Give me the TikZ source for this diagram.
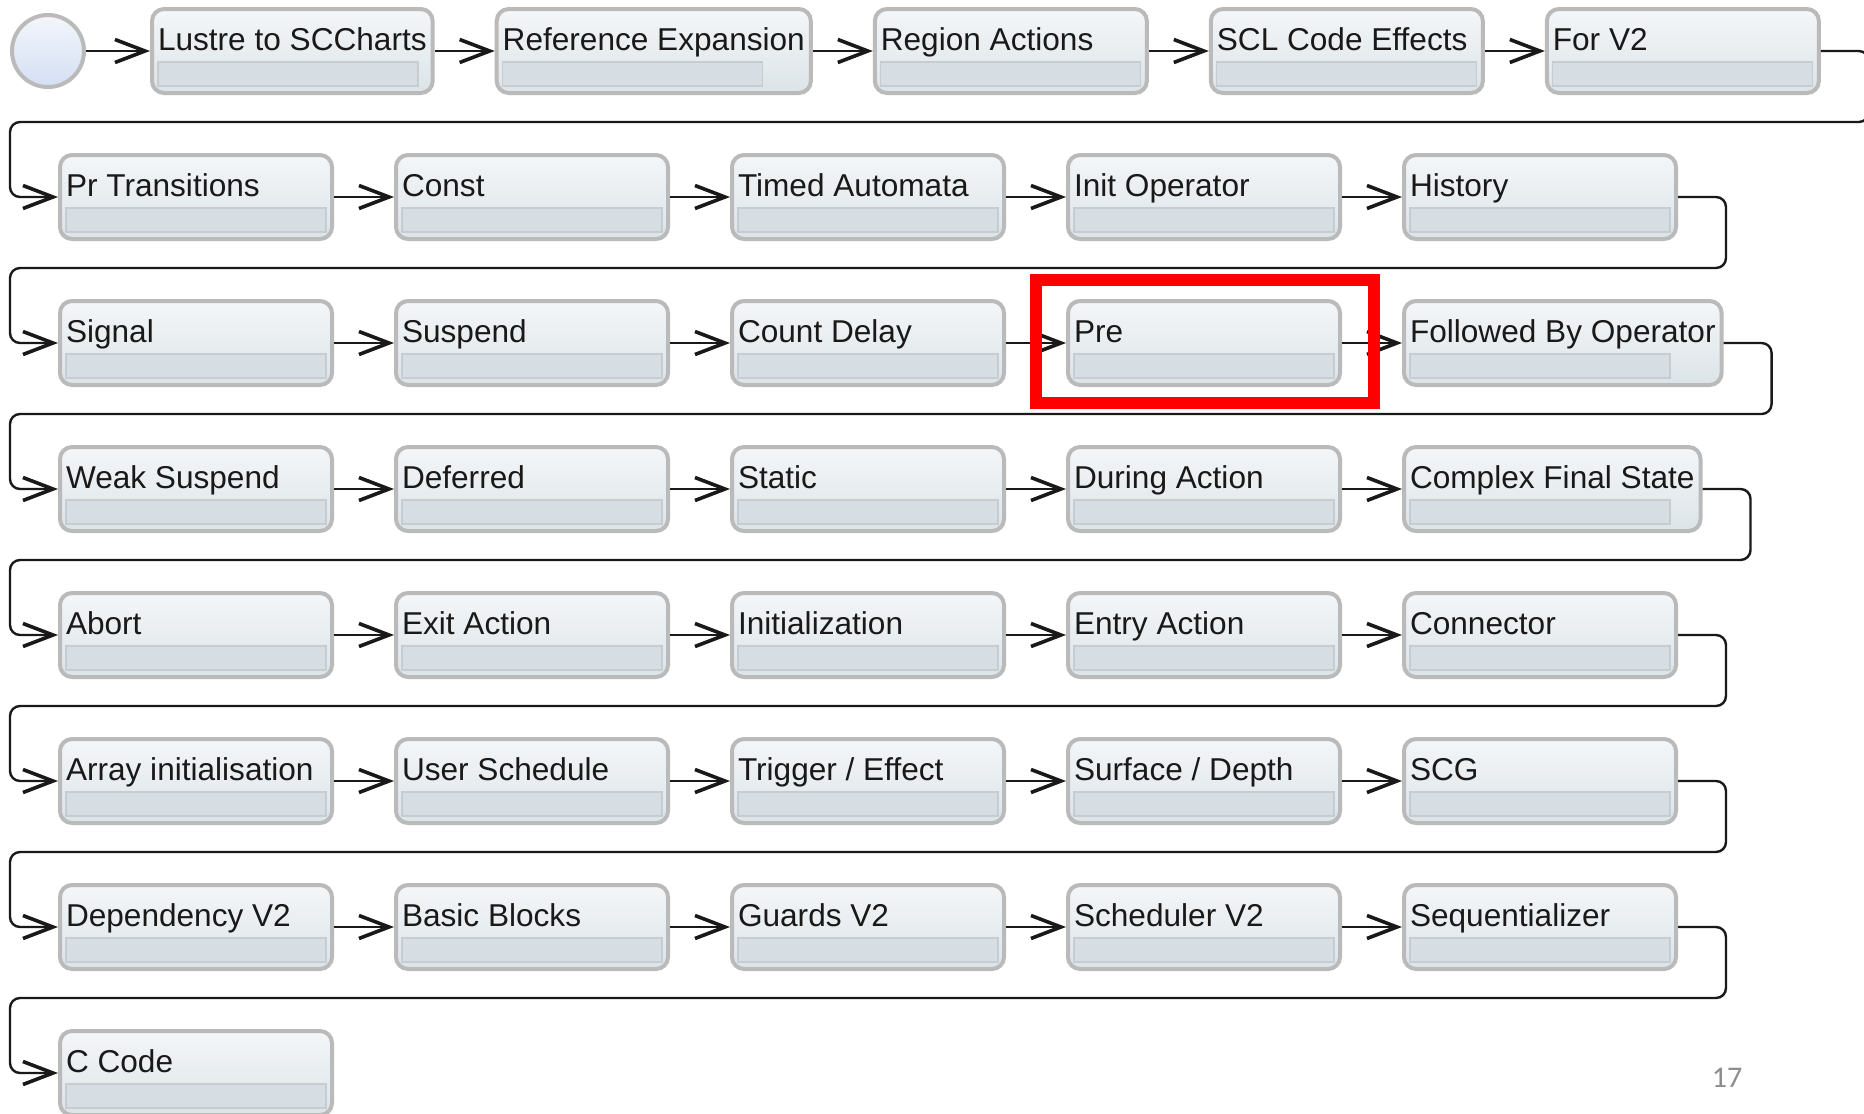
\documentclass[tikz,border=0pt]{standalone}
\usepackage{fontspec}
\setmainfont{Liberation Sans}
\newfontfamily\slidefont{Carlito}
\usetikzlibrary{positioning,arrows.meta}

\definecolor{boxtop}{HTML}{F4F6F8}
\definecolor{boxbot}{HTML}{DCE4E8}
\definecolor{boxline}{HTML}{BABABA}
\definecolor{barfill}{HTML}{D6DEE3}
\definecolor{barline}{HTML}{C6CCD0}
\definecolor{inittop}{HTML}{F4F6FB}
\definecolor{initbot}{HTML}{D3DFF3}
\definecolor{pagegray}{HTML}{8C8C8C}

% step label, left aligned, at least as wide as the bar
\newlength\stepw
\newcommand\steptext[1]{%
  \settowidth\stepw{#1}%
  \ifdim\stepw<130pt\setlength\stepw{130pt}\fi
  \makebox[\stepw][l]{#1}}

\tikzset{
  phase/.style={draw=boxline, line width=2pt, rounded corners=6pt,
    top color=boxtop, bottom color=boxbot, anchor=west,
    inner xsep=3pt, inner ysep=3.5pt, text height=17pt, text depth=18pt,
    font=\fontsize{15.8}{19}\selectfont, text=black!90,
    path picture={\draw[draw=barline, fill=barfill, line width=0.6pt, sharp corners]
      ([shift={(3pt,3.5pt)}]path picture bounding box.south west)
      rectangle +(130pt,12pt);}},
  initstate/.style={circle, draw=boxline, line width=2pt,
    top color=inittop, bottom color=initbot, minimum size=36pt, inner sep=0pt},
  conn/.style={line width=1.2pt, draw=black!90, rounded corners=5pt,
    -{Straight Barb[length=15pt,width=11.5pt,line width=1.8pt]}},
  hilite/.style={draw=red, line width=6pt},
  pagenum/.style={font=\slidefont\fontsize{15}{18}\selectfont, text=pagegray}
}

\begin{document}
\begin{tikzpicture}[x=0.5pt,y=-0.5pt]

  \def\rh{146}  % row step
  \def\cw{336}  % column step

  \clip (0,0) rectangle (1864,1114);
  \fill[white] (0,0) rectangle (1864,1114);

  % ----------------------------------------------------------------
  % first row, after the initial state
  % ----------------------------------------------------------------
  \node[initstate] (init) at (48,51) {};
  \node[phase] (t11) at (150,51) {\steptext{Lustre to SCCharts}};
  \node[phase, right=30pt of t11] (t12) {\steptext{Reference Expansion}};
  \node[phase, right=30pt of t12] (t13) {\steptext{Region Actions}};
  \node[phase, right=30pt of t13] (t14) {\steptext{SCL Code Effects}};
  \node[phase, right=30pt of t14] (t15) {\steptext{For V2}};

  % ----------------------------------------------------------------
  % rows 2 to 8
  % ----------------------------------------------------------------
  \foreach \r/\steps in {%
    2/{Pr Transitions,Const,Timed Automata,Init Operator,History},
    3/{Signal,Suspend,Count Delay,Pre,Followed By Operator},
    4/{Weak Suspend,Deferred,Static,During Action,Complex Final State},
    5/{Abort,Exit Action,Initialization,Entry Action,Connector},
    6/{Array initialisation,User Schedule,Trigger / Effect,Surface / Depth,SCG},
    7/{Dependency V2,Basic Blocks,Guards V2,Scheduler V2,Sequentializer}}{
    \foreach \t [count=\c] in \steps {
      \node[phase] (t\r\c) at ({58+(\c-1)*\cw},{51+(\r-1)*\rh}) {\steptext{\t}};
    }
  }
  \node[phase] (t81) at (58,{51+7*\rh}) {\steptext{C Code}};

  % ----------------------------------------------------------------
  % transitions
  % ----------------------------------------------------------------
  \draw[conn] (init.east) -- (t11.west);
  \foreach \r in {1,...,7}{
    \foreach \c [count=\nc from 2] in {1,...,4}
      \draw[conn] (t\r\c.east) -- (t\r\nc.west);
  }
  % wrap from the end of a row to the start of the next one
  \foreach \r [count=\nr from 2] in {1,...,7}
    \draw[conn] (t\r5.east) -- ++(48,0) |- (10,{\r*\rh-24}) |- (t\nr1.west);

  % the marked step
  \draw[hilite] ([xshift=-15pt,yshift=9.5pt]t34.north west)
    rectangle ([xshift=16pt,yshift=-8pt]t34.south east);

  \node[pagenum] (page) at (1727,1078) {17};

\end{tikzpicture}
\end{document}
